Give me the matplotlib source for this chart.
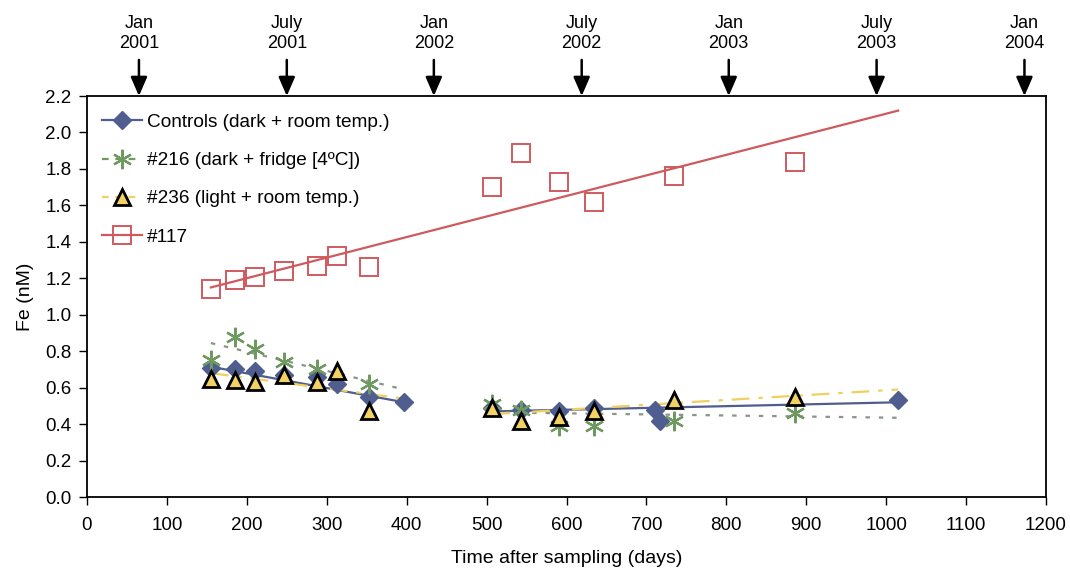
import matplotlib

matplotlib.use("Agg")
import matplotlib.pyplot as plt

plt.rcParams["font.family"] = ["Liberation Sans", "DejaVu Sans"]

# sampling days and Fe (nM)
ctrl_x = [155, 185, 210, 247, 288, 313, 353, 397, 507, 543, 590, 634, 711, 717, 1015]
ctrl_y = [0.71, 0.70, 0.69, 0.67, 0.66, 0.62, 0.55, 0.52, 0.49, 0.48, 0.47, 0.49, 0.48, 0.42, 0.53]
s216_x = [155, 185, 210, 247, 288, 353, 507, 543, 590, 634, 734, 886]
s216_y = [0.75, 0.88, 0.81, 0.74, 0.70, 0.62, 0.51, 0.48, 0.39, 0.39, 0.42, 0.46]
s236_x = [155, 185, 210, 247, 288, 313, 353, 507, 543, 590, 634, 734, 886]
s236_y = [0.65, 0.64, 0.63, 0.67, 0.63, 0.69, 0.47, 0.49, 0.42, 0.44, 0.47, 0.53, 0.55]
s117_x = [155, 185, 210, 247, 288, 313, 353, 507, 543, 590, 634, 734, 886]
s117_y = [1.14, 1.19, 1.21, 1.24, 1.27, 1.32, 1.26, 1.70, 1.89, 1.73, 1.62, 1.76, 1.84]

# trend lines (end points), two periods for the low series
ctrl_fit = [([155, 397], [0.715, 0.52]), ([507, 1015], [0.47, 0.52])]
s216_fit = [([155, 397], [0.845, 0.59]), ([507, 1015], [0.465, 0.435])]
s236_fit = [([155, 397], [0.68, 0.54]), ([507, 1015], [0.455, 0.59])]
s117_fit = ([155, 1015], [1.15, 2.12])

# calendar markers along the top
date_x = [65, 250, 434, 619, 803, 988, 1173]
date_labels = ["Jan\n2001", "July\n2001", "Jan\n2002", "July\n2002",
               "Jan\n2003", "July\n2003", "Jan\n2004"]

C_CTRL = "#4f5d8f"
C_216 = "#6e9a62"
C_216L = "#8a948a"
C_236 = "#f2d264"
C_236L = "#f0d060"
C_117 = "#cf5a5e"

fig = plt.figure(figsize=(10.7, 5.76), dpi=100)
ax = fig.add_axes([0.0813, 0.137, 0.8963, 0.6963])

# trend lines
for fx, fy in ctrl_fit:
    ax.plot(fx, fy, color=C_CTRL, lw=1.6, zorder=2)
for fx, fy in s216_fit:
    ax.plot(fx, fy, color=C_216L, lw=1.6, ls=(0, (2, 4)), zorder=2)
for fx, fy in s236_fit:
    ax.plot(fx, fy, color=C_236L, lw=1.6, ls=(0, (8, 4, 2, 4)), zorder=2)
ax.plot(*s117_fit, color=C_117, lw=1.6, zorder=2)

# markers
ax.plot(ctrl_x, ctrl_y, ls="none", marker="D", ms=9, color=C_CTRL, zorder=3)
ax.plot(s216_x, s216_y, ls="none", marker=(6, 2, 0), ms=14, mew=1.6,
        color=C_216, zorder=4)
ax.plot(s236_x, s236_y, ls="none", marker="^", ms=12, mfc=C_236, mec="black",
        mew=2.0, zorder=5)
ax.plot(s117_x, s117_y, ls="none", marker="s", ms=13, mfc="none", mec=C_117,
        mew=1.4, zorder=3)

# legend proxies
h1, = ax.plot([], [], color=C_CTRL, lw=1.6, marker="D", ms=9)
h2, = ax.plot([], [], color=C_216, lw=1.6, ls=(0, (3, 3)), marker=(6, 2, 0),
              ms=14, mew=1.6)
h3, = ax.plot([], [], color=C_236L, lw=1.6, ls=(0, (3, 3)), marker="^", ms=12,
              mfc=C_236, mec="black", mew=2.0)
h4, = ax.plot([], [], color=C_117, lw=1.6, marker="s", ms=13, mfc="none",
              mec=C_117, mew=1.4)
ax.legend([h1, h2, h3, h4],
          ["Controls (dark + room temp.)", "#216 (dark + fridge [4ºC])",
           "#236 (light + room temp.)", "#117"],
          loc="upper left", frameon=False, fontsize=13.7, handlelength=2.1,
          handletextpad=0.25, labelspacing=1.1, borderaxespad=0.0,
          bbox_to_anchor=(0.008, 0.975))

ax.set_xlim(0, 1200)
ax.set_ylim(0, 2.2)
ax.set_xticks(range(0, 1201, 100))
ax.set_yticks([i * 0.2 for i in range(12)])
ax.set_yticklabels([f"{i * 0.2:.1f}" for i in range(12)])
ax.tick_params(direction="out", length=6, width=1.0, labelsize=13.5, pad=5)
ax.tick_params(axis="x", pad=8)
for sp in ax.spines.values():
    sp.set_linewidth(1.3)
ax.set_xlabel("Time after sampling (days)", fontsize=14, labelpad=12)
ax.set_ylabel("Fe (nM)", fontsize=14, labelpad=8)

# date arrows above the axes
for dx, lab in zip(date_x, date_labels):
    ax.annotate("", xy=(dx, 1.0), xycoords=("data", "axes fraction"),
                xytext=(dx, 1.09), textcoords=("data", "axes fraction"),
                arrowprops=dict(arrowstyle="-|>,head_length=1.15,head_width=0.5",
                                color="black", lw=1.8, shrinkA=0, shrinkB=0),
                annotation_clip=False)
    ax.text(dx, 1.11, lab, transform=ax.get_xaxis_transform(), ha="center",
            va="bottom", fontsize=13, linespacing=1.2)

fig.savefig("out.png", dpi=100)
